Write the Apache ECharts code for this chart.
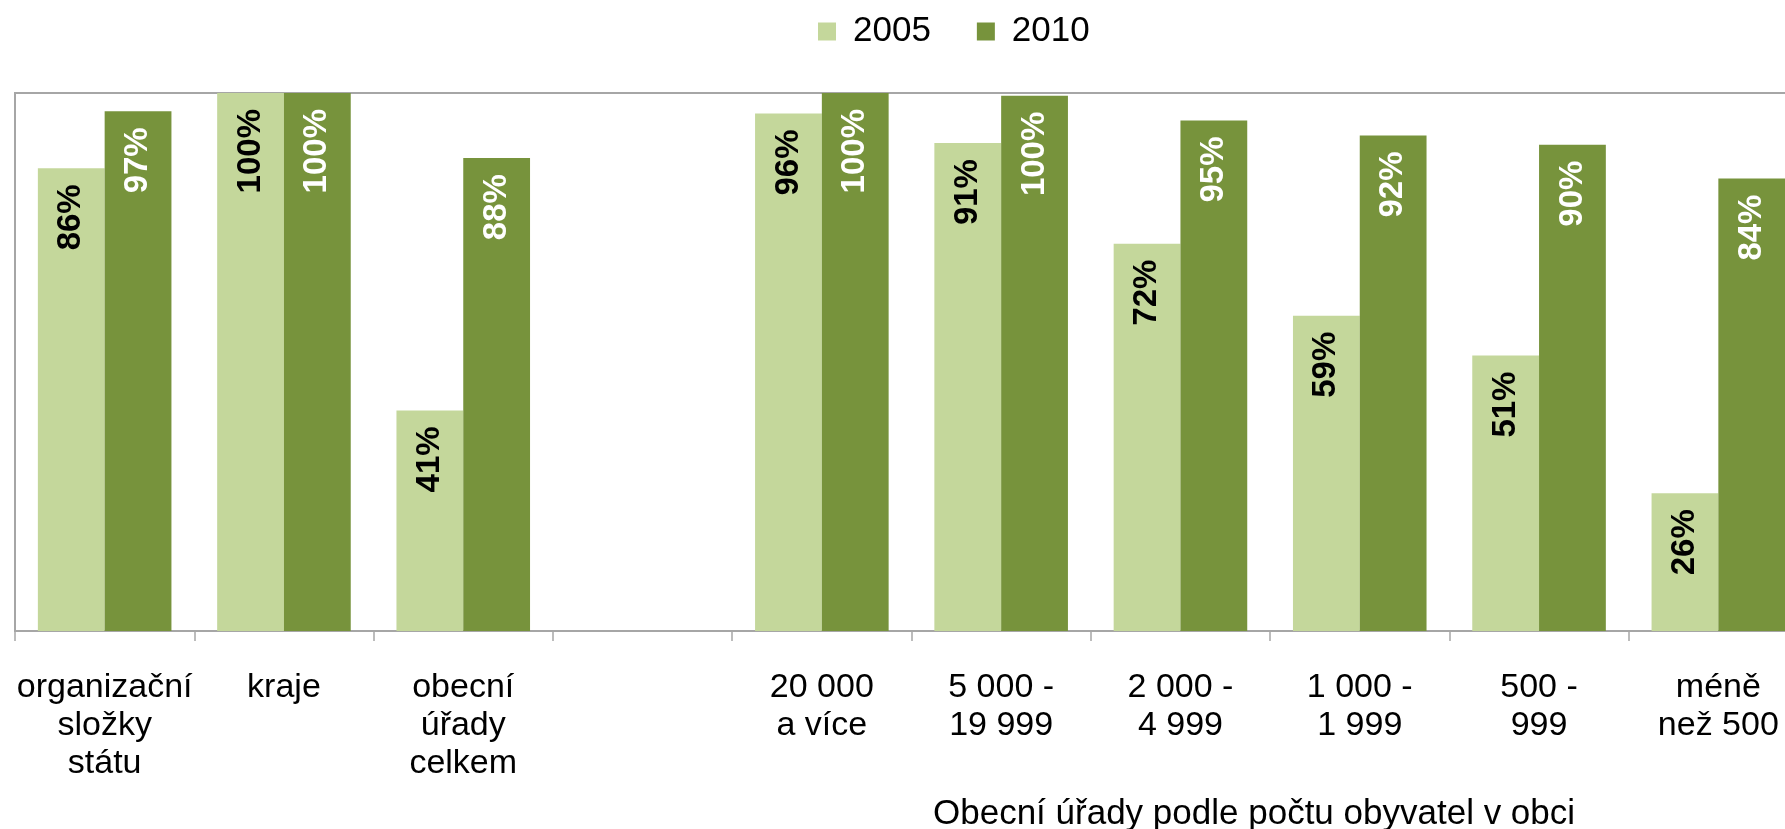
<!DOCTYPE html>
<html>
<head>
<meta charset="utf-8">
<script src="https://cdn.jsdelivr.net/npm/echarts@6/dist/echarts.min.js"></script>
<style>
html,body{margin:0;padding:0;background:#fff;}
#chart{width:1785px;height:829px;}
</style>
</head>
<body>
<div id="chart"></div>
<script>
var categories = [
  "organizační\nsložky\nstátu",
  "kraje",
  "obecní\núřady\ncelkem",
  "",
  "20 000\na více",
  "5 000 -\n19 999",
  "2 000 -\n4 999",
  "1 000 -\n1 999",
  "500 -\n999",
  "méně\nnež 500"
];
var seriesNames = ["2005", "2010"];
var values2005 = [86, 100, 41, null, 96.2, 90.7, 72, 58.6, 51.2, 25.6];
var values2010 = [96.6, 100, 87.9, null, 100, 99.5, 94.9, 92.1, 90.4, 84.1];
var axisTitle = "Obecní úřady podle počtu obyvatel v obci";

var FONT = "'Liberation Sans', Arial, sans-serif";
var chart = echarts.init(document.getElementById('chart'), null, {renderer: 'canvas'});

function labelCfg(color) {
  return {
    show: true,
    rotate: 90,
    position: 'insideTop',
    align: 'right',
    verticalAlign: 'middle',
    distance: 16,
    color: color,
    fontFamily: FONT,
    fontWeight: 'bold',
    fontSize: 33,
    formatter: function (p) { return p.value == null ? '' : Math.round(p.value) + '%'; }
  };
}

chart.setOption({
  animation: false,
  backgroundColor: '#ffffff',
  legend: {
    data: seriesNames,
    left: 813,
    top: 9,
    itemWidth: 18,
    itemHeight: 18,
    itemGap: 46,
    icon: 'rect',
    textStyle: {fontFamily: FONT, fontSize: 35, color: '#000', padding: [0, 0, 0, 12]}
  },
  grid: {
    left: 15, right: -23, top: 93, bottom: 198,
    show: true,
    borderColor: '#a6a6a6',
    borderWidth: 2,
    containLabel: false,
    outerBoundsMode: 'none'
  },
  xAxis: {
    type: 'category',
    data: categories,
    axisLine: {lineStyle: {color: '#a6a6a6', width: 2}},
    axisTick: {show: true, length: 10, lineStyle: {color: '#a6a6a6', width: 1.5}},
    axisLabel: {
      interval: 0,
      margin: 38,
      color: '#000',
      fontFamily: FONT,
      fontSize: 34,
      lineHeight: 38,
      align: 'center'
    }
  },
  yAxis: {
    type: 'value',
    min: 0,
    max: 100,
    show: false,
    splitLine: {show: false}
  },
  series: [
    {
      name: seriesNames[0],
      type: 'bar',
      data: values2005,
      barGap: '0%',
      barCategoryGap: '25.5%',
      itemStyle: {color: '#c4d79b'},
      label: labelCfg('#000000')
    },
    {
      name: seriesNames[1],
      type: 'bar',
      data: values2010,
      barGap: '0%',
      barCategoryGap: '25.5%',
      itemStyle: {color: '#77933c'},
      label: labelCfg('#ffffff')
    }
  ],
  graphic: [{
    type: 'text',
    left: 933,
    top: 797,
    style: {
      text: axisTitle,
      fill: '#000',
      font: "35px 'Liberation Sans', Arial, sans-serif"
    }
  }]
});
</script>
</body>
</html>
